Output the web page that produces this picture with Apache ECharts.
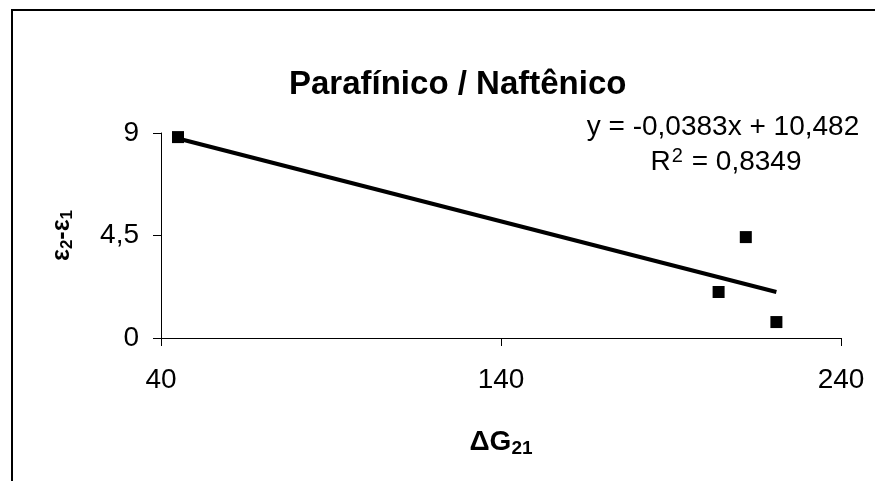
<!DOCTYPE html>
<html>
<head>
<meta charset="utf-8">
<script src="https://cdn.jsdelivr.net/npm/echarts@6/dist/echarts.min.js"></script>
<style>
  html, body { margin: 0; padding: 0; background: #fff; }
  #main { width: 875px; height: 481px; }
</style>
</head>
<body>
<div id="main"></div>
<script>
// pontos medidos (ΔG21, ε2-ε1)
var dG = [45, 204, 212, 221];
var dEps = [8.82, 2.02, 4.43, 0.7];
// linha de tendência mostrada no gráfico
var slope = -0.0383;
var intercept = 10.482;
var r2 = '0,8349';
var xTicks = [40, 140, 240];
var yTicks = [0, 4.5, 9];

var FONT = 'Liberation Sans, Arial, sans-serif';
var comma = function (v) { return String(v).replace('.', ','); };

var pts = dG.map(function (x, i) { return [x, dEps[i]]; });
var xMin = Math.min.apply(null, dG), xMax = Math.max.apply(null, dG);
var trend = [[xMin, slope * xMin + intercept], [xMax, slope * xMax + intercept]];

var chart = echarts.init(document.getElementById('main'));
var option = {
  backgroundColor: '#fff',
  animation: false,
  textStyle: { fontFamily: FONT, color: '#000' },
  title: {
    text: 'Parafínico / Naftênico',
    left: 284,
    top: 63,
    textStyle: { fontFamily: FONT, fontSize: 33, fontWeight: 'bold', color: '#000' }
  },
  grid: { left: 161, right: 34, top: 133, bottom: 143 },
  xAxis: {
    type: 'value',
    min: xTicks[0],
    max: xTicks[2],
    interval: 100,
    name: '{d|ΔG}{s|21}',
    nameLocation: 'middle',
    nameGap: 89,
    nameTextStyle: {
      rich: {
        d: { fontFamily: FONT, fontSize: 28, fontWeight: 'bold', color: '#000' },
        s: { fontFamily: FONT, fontSize: 19, fontWeight: 'bold', color: '#000', padding: [12, 0, 0, 0] }
      }
    },
    axisLine: { lineStyle: { color: '#000', width: 1 } },
    axisTick: { inside: false, length: 8, lineStyle: { color: '#000' } },
    axisLabel: { fontFamily: FONT, fontSize: 28, color: '#000', margin: 28 },
    splitLine: { show: false }
  },
  yAxis: {
    type: 'value',
    min: yTicks[0],
    max: yTicks[2],
    interval: 4.5,
    name: '{e|ε}{s|2}{e|-ε}{s|1}',
    nameLocation: 'middle',
    nameGap: 85,
    nameRotate: 90,
    nameTextStyle: {
      rich: {
        e: { fontFamily: FONT, fontSize: 25, fontWeight: 'bold', color: '#000' },
        s: { fontFamily: FONT, fontSize: 17, fontWeight: 'bold', color: '#000', padding: [10, 0, 0, 0] }
      }
    },
    axisLine: { show: true, lineStyle: { color: '#000', width: 1 } },
    axisTick: { show: true, inside: false, length: 8, lineStyle: { color: '#000' } },
    axisLabel: { fontFamily: FONT, fontSize: 28, color: '#000', margin: 22, formatter: comma },
    splitLine: { show: false }
  },
  series: [
    {
      type: 'line',
      data: trend,
      symbol: 'none',
      lineStyle: { color: '#000', width: 4 },
      z: 2
    },
    {
      type: 'scatter',
      data: pts,
      symbol: 'rect',
      symbolSize: 12,
      itemStyle: { color: '#000', opacity: 1 },
      z: 3
    }
  ],
  graphic: [
    {
      type: 'rect',
      shape: { x: 12, y: 10, width: 900, height: 520 },
      style: { fill: null, stroke: '#000', lineWidth: 2 },
      silent: true
    },
    {
      type: 'text',
      x: 723, y: 127,
      style: {
        text: 'y = ' + comma(slope) + 'x + ' + comma(intercept),
        font: '28px ' + FONT,
        fill: '#000',
        textAlign: 'center',
        textVerticalAlign: 'middle'
      }
    },
    {
      type: 'text',
      x: 726, y: 162,
      style: {
        text: '{t|R}{p|2}{t| = ' + r2 + '}',
        textAlign: 'center',
        textVerticalAlign: 'middle',
        rich: {
          t: { font: '28px ' + FONT, fill: '#000' },
          p: { font: '20px ' + FONT, fill: '#000', padding: [0, 1, 12, 1] }
        }
      }
    }
  ]
};
chart.setOption(option);
</script>
</body>
</html>
